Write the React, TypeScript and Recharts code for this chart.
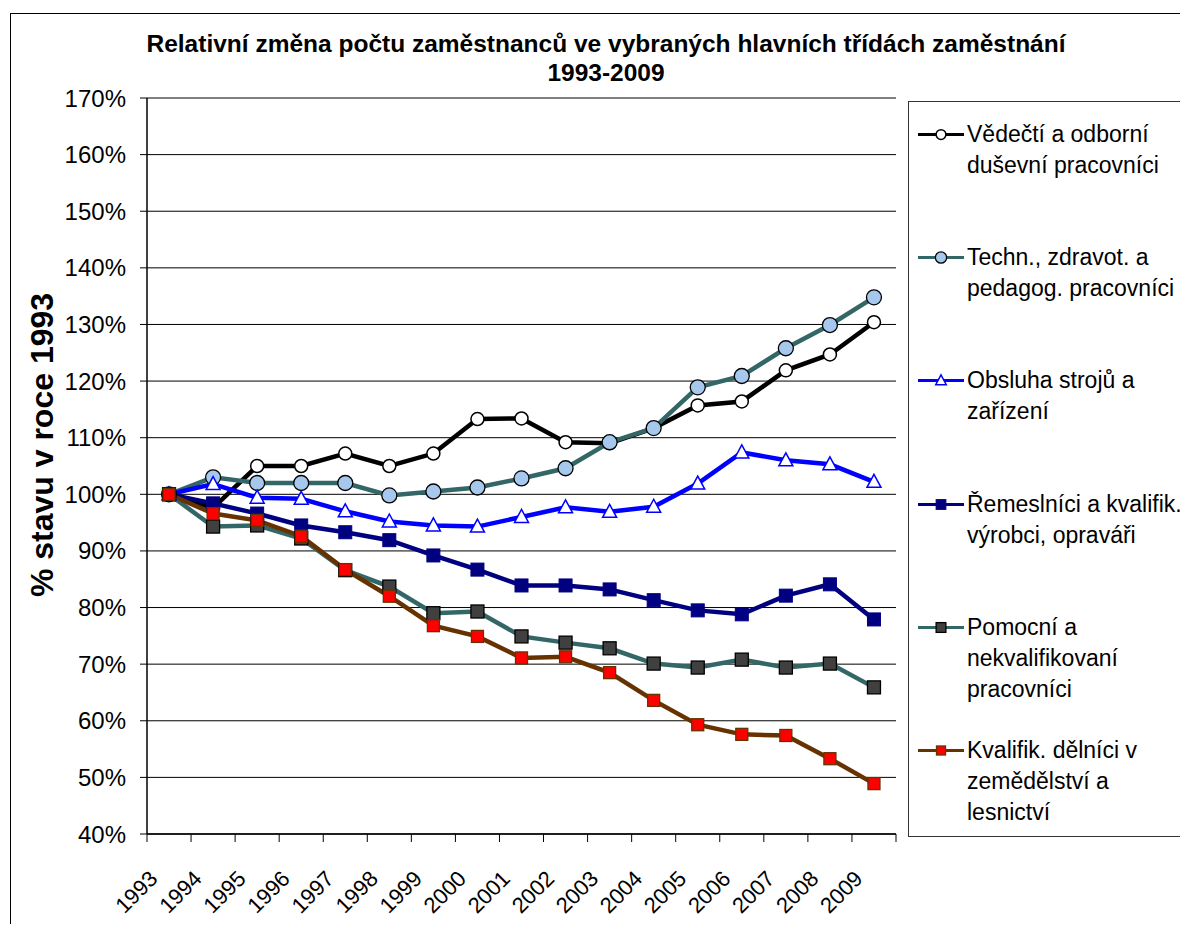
import React from "react";
import { LineChart, Line, XAxis, YAxis, CartesianGrid } from "recharts";

const years = [1993, 1994, 1995, 1996, 1997, 1998, 1999, 2000, 2001, 2002, 2003, 2004, 2005, 2006, 2007, 2008, 2009];

const vedecti = [100, 97.6, 105, 105, 107.2, 105, 107.2, 113.3, 113.4, 109.2, 109.0, 111.7, 115.7, 116.4, 121.9, 124.7, 130.4];
const techn = [100, 103.0, 102, 102, 102, 99.8, 100.5, 101.2, 102.8, 104.6, 109.2, 111.7, 118.9, 120.9, 125.8, 129.9, 134.8];
const obsluha = [100, 101.8, 99.4, 99.2, 97.0, 95.2, 94.5, 94.3, 96.0, 97.7, 96.9, 97.8, 101.9, 107.4, 106.0, 105.3, 102.2];
const remeslnici = [100, 98.4, 96.6, 94.5, 93.3, 91.9, 89.2, 86.7, 83.9, 83.9, 83.2, 81.3, 79.5, 78.8, 82.1, 84.1, 77.9];
const pomocni = [100, 94.3, 94.5, 92.2, 86.6, 83.7, 79.0, 79.3, 74.9, 73.8, 72.8, 70.1, 69.4, 70.8, 69.4, 70.1, 65.9];
const zemedelci = [100, 96.6, 95.4, 92.6, 86.7, 82.0, 76.8, 74.9, 71.1, 71.3, 68.5, 63.6, 59.3, 57.6, 57.4, 53.3, 48.9];

const yTicks = [40, 50, 60, 70, 80, 90, 100, 110, 120, 130, 140, 150, 160, 170];

const titleLines = [
  "Relativní změna počtu zaměstnanců ve vybraných hlavních třídách zaměstnání",
  "1993-2009",
];
const yLabel = "% stavu v roce 1993";

type Marker = "circleOpen" | "circleBlue" | "triangle" | "squareNavy" | "squareGrey" | "squareRed";

const series: { key: string; lines: string[]; values: number[]; color: string; marker: Marker }[] = [
  { key: "vedecti", lines: ["Vědečtí a odborní", "duševní pracovníci"], values: vedecti, color: "#000000", marker: "circleOpen" },
  { key: "techn", lines: ["Techn., zdravot. a", "pedagog. pracovníci"], values: techn, color: "#336666", marker: "circleBlue" },
  { key: "obsluha", lines: ["Obsluha strojů a", "zařízení"], values: obsluha, color: "#0000FF", marker: "triangle" },
  { key: "remeslnici", lines: ["Řemeslníci a kvalifik.", "výrobci, opraváři"], values: remeslnici, color: "#000080", marker: "squareNavy" },
  { key: "pomocni", lines: ["Pomocní a", "nekvalifikovaní", "pracovníci"], values: pomocni, color: "#336666", marker: "squareGrey" },
  { key: "zemedelci", lines: ["Kvalifik. dělníci v", "zemědělství a", "lesnictví"], values: zemedelci, color: "#663300", marker: "squareRed" },
];

const data = years.map((year, i) => {
  const row: Record<string, number> = { year };
  series.forEach((s) => (row[s.key] = s.values[i]));
  return row;
});

// tick positions: category centres get labels, category edges get tick marks
const xTicks: number[] = [];
years.forEach((y) => xTicks.push(y - 0.5, y));
xTicks.push(years[years.length - 1] + 0.5);

const FONT = '"Liberation Sans", Arial, sans-serif';

function markerShape(marker: Marker, cx: number, cy: number, key?: React.Key, k = 1) {
  switch (marker) {
    case "circleOpen":
      return <circle key={key} cx={cx} cy={cy} r={6.5 * k} fill="#ffffff" stroke="#000000" strokeWidth={1.5} />;
    case "circleBlue":
      return <circle key={key} cx={cx} cy={cy} r={7.5 * k} fill="#A6C8EC" stroke="#000000" strokeWidth={1.3} />;
    case "triangle":
      return (
        <polygon
          key={key}
          points={`${cx},${cy - 7.5 * k} ${cx + 7 * k},${cy + 5.5 * k} ${cx - 7 * k},${cy + 5.5 * k}`}
          fill="#ffffff"
          stroke="#0000FF"
          strokeWidth={1.5}
        />
      );
    case "squareNavy":
      return <rect key={key} x={cx - 6.5 * k} y={cy - 6.5 * k} width={13 * k} height={13 * k} fill="#000080" stroke="#000080" />;
    case "squareGrey":
      return (
        <rect key={key} x={cx - 6.5 * k} y={cy - 6.5 * k} width={13 * k} height={13 * k} fill="#404040" stroke="#000000" strokeWidth={1.3} />
      );
    case "squareRed":
      return (
        <rect key={key} x={cx - 6 * k} y={cy - 6 * k} width={12 * k} height={12 * k} fill="#FF0000" stroke="#663300" strokeWidth={1.3} />
      );
  }
}

function XTick(props: any) {
  const { x, y, payload } = props;
  const v = payload.value as number;
  if (!Number.isInteger(v)) {
    return <line x1={x} y1={y} x2={x} y2={y + 8} stroke="#000" strokeWidth={1} />;
  }
  const ax = x - 10;
  const ay = y + 46;
  return (
    <text
      x={ax}
      y={ay}
      transform={`rotate(-45, ${ax}, ${ay})`}
      textAnchor="end"
      fontSize={22}
      fontFamily={FONT}
      fill="#000"
    >
      {v}
    </text>
  );
}

function Legend() {
  return (
    <div
      style={{
        position: "absolute",
        left: 900,
        top: 93,
        width: 300,
        height: 734,
        border: "1px solid #333",
        background: "#fff",
      }}
    >
      {series.map((s, i) => (
        <div key={s.key} style={{ position: "absolute", left: 0, top: 17 + i * 123.2 }}>
          <svg width={50} height={31} style={{ position: "absolute", left: 7, top: 0 }}>
            <line x1={2} y1={15.5} x2={48} y2={15.5} stroke={s.color} strokeWidth={3} />
            {markerShape(s.marker, 25, 15.5, undefined, 0.75)}
          </svg>
          <div
            style={{
              position: "absolute",
              left: 58,
              top: 0,
              fontSize: 23,
              lineHeight: "31px",
              whiteSpace: "nowrap",
              color: "#000",
            }}
          >
            {s.lines.map((l) => (
              <div key={l}>{l}</div>
            ))}
          </div>
        </div>
      ))}
    </div>
  );
}

export default function App() {
  return (
    <div
      style={{
        position: "relative",
        width: 1180,
        height: 916,
        overflow: "hidden",
        background: "#fff",
        fontFamily: FONT,
      }}
    >
      <div
        style={{
          position: "absolute",
          left: 2,
          top: 5,
          width: 1300,
          height: 1100,
          border: "1px solid #000",
        }}
      />
      <div
        style={{
          position: "absolute",
          left: 598,
          top: 21,
          transform: "translateX(-50%)",
          textAlign: "center",
          fontWeight: "bold",
          fontSize: 24.5,
          lineHeight: "29px",
          whiteSpace: "nowrap",
        }}
      >
        {titleLines.map((t) => (
          <div key={t}>{t}</div>
        ))}
      </div>
      <div
        style={{
          position: "absolute",
          left: 34,
          top: 437,
          transform: "translate(-50%, -50%) rotate(-90deg)",
          fontWeight: "bold",
          fontSize: 32,
          whiteSpace: "nowrap",
        }}
      >
        {yLabel}
      </div>
      <LineChart
        width={1180}
        height={916}
        data={data}
        margin={{ top: 90, right: 292, bottom: 10, left: 0 }}
        style={{ position: "absolute", left: 0, top: 0 }}
      >
        <CartesianGrid horizontal vertical={false} stroke="#000" strokeWidth={1} />
        <XAxis
          dataKey="year"
          type="number"
          domain={[1992.5, 2009.5]}
          ticks={xTicks}
          interval={0}
          height={80}
          tickLine={false}
          tickSize={0}
          tickMargin={0}
          axisLine={{ stroke: "#000", strokeWidth: 1.5 }}
          tick={<XTick />}
        />
        <YAxis
          domain={[40, 170]}
          ticks={yTicks}
          interval={0}
          width={139}
          tickSize={7}
          tickMargin={14}
          tickLine={{ stroke: "#000" }}
          axisLine={{ stroke: "#000", strokeWidth: 1.5 }}
          tickFormatter={(v: number) => `${v}%`}
          tick={{ fontSize: 24, fill: "#000", fontFamily: FONT }}
        />
        <YAxis
          yAxisId="right"
          orientation="right"
          width={0}
          domain={[40, 170]}
          tick={false}
          tickLine={false}
          axisLine={{ stroke: "#888" }}
        />
        {series.map((s) => (
          <Line
            key={s.key}
            dataKey={s.key}
            stroke={s.color}
            strokeWidth={4.5}
            isAnimationActive={false}
            dot={(p: any) => markerShape(s.marker, p.cx, p.cy, `${s.key}-${p.index}`)}
            activeDot={false}
          />
        ))}
      </LineChart>
      <Legend />
    </div>
  );
}
